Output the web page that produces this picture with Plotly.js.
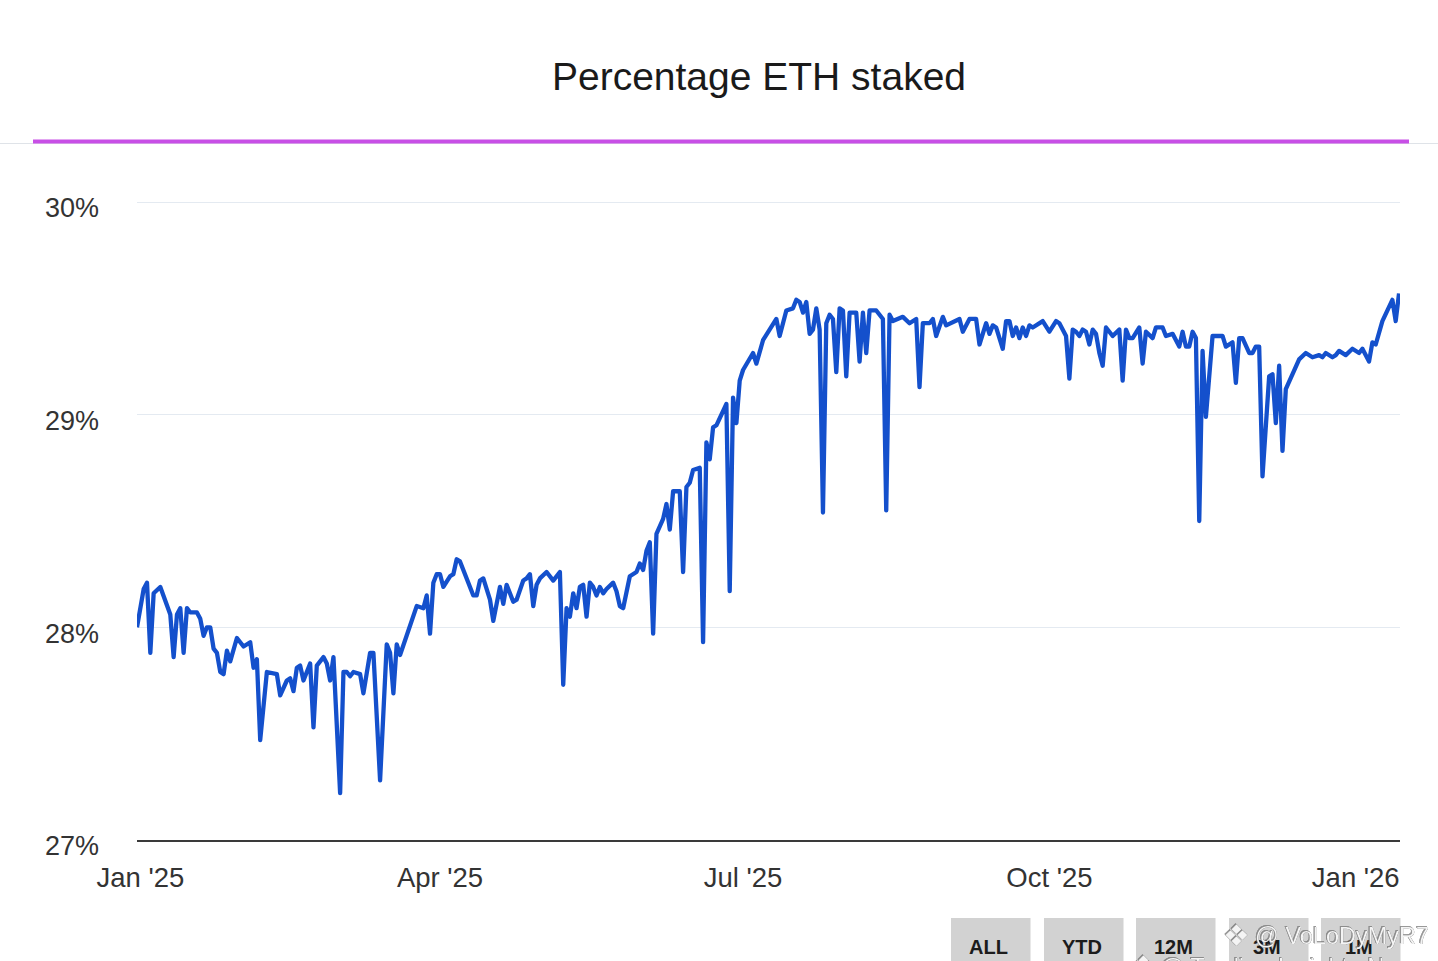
<!DOCTYPE html>
<html>
<head>
<meta charset="utf-8">
<script src="https://cdn.plot.ly/plotly-3.0.1.min.js"></script>
<style>
html,body{margin:0;padding:0;background:#fff;overflow:hidden}
#chart{width:1438px;height:961px}
g.annotation[data-index="5"] text,g.annotation[data-index="6"] text,g.annotation[data-index="7"] text,g.annotation[data-index="8"] text{filter:drop-shadow(0.5px 0.5px 0.4px rgba(70,70,70,1)) drop-shadow(-0.3px -0.3px 0.4px rgba(110,110,110,0.7))}
.js-line{stroke-linejoin:round}
</style>
</head>
<body>
<div id="chart"></div>
<script>
var titleText = "Percentage ETH staked";
var startDate = Date.UTC(2025, 0, 1);
var dayOffsets = [-1,0,1,2,3,4,6,9,10,11,12,13,14,15,17,18,19,20,21,22,23,24,25,26,27,29,31,33,34,35,36,38,40,41,42,44,45,46,47,48,49,50,51,52,53,55,56,57,58,60,61,62,63,64,66,67,69,70,72,74,75,76,77,78,83,85,86,87,88,89,90,91,93,94,95,96,100,101,102,103,105,106,108,109,110,112,113,115,116,117,118,119,120,122,124,126,127,128,129,130,131,132,133,134,135,136,137,138,139,140,142,143,144,145,147,149,150,151,152,153,154,155,157,158,159,160,162,163,164,165,166,168,169,170,171,172,173,176,177,178,179,180,181,184,185,187,189,191,192,194,196,197,198,199,200,201,202,203,204,205,206,207,208,209,210,211,212,213,215,216,217,218,219,221,223,224,225,226,229,231,233,234,235,237,238,239,241,242,246,247,249,251,252,254,255,256,257,259,260,261,262,263,264,265,266,267,268,271,273,275,276,278,279,280,281,282,283,284,285,286,287,288,289,290,292,294,295,296,297,298,300,301,302,304,305,307,308,310,312,313,314,315,316,317,318,319,320,322,323,325,326,328,329,330,331,333,334,335,336,337,339,340,341,342,343,344,348,350,352,354,355,356,358,359,360,362,364,366,367,369,370,371,373,376,377,378];
var stakedPct = [28.00,28.09,28.18,28.21,27.88,28.16,28.19,28.06,27.86,28.06,28.09,27.88,28.09,28.07,28.07,28.04,27.96,28.00,28.00,27.90,27.88,27.79,27.78,27.89,27.84,27.95,27.91,27.93,27.81,27.85,27.47,27.79,27.78,27.78,27.68,27.75,27.76,27.70,27.81,27.82,27.75,27.79,27.83,27.53,27.82,27.86,27.83,27.75,27.86,27.22,27.79,27.79,27.77,27.79,27.78,27.69,27.88,27.88,27.28,27.92,27.88,27.69,27.92,27.87,28.10,28.09,28.15,27.97,28.21,28.25,28.25,28.19,28.24,28.25,28.32,28.31,28.15,28.15,28.22,28.23,28.13,28.03,28.19,28.11,28.20,28.12,28.13,28.22,28.23,28.25,28.10,28.20,28.23,28.26,28.22,28.26,27.73,28.09,28.05,28.16,28.09,28.19,28.20,28.05,28.21,28.19,28.15,28.19,28.16,28.18,28.21,28.17,28.10,28.09,28.24,28.26,28.30,28.27,28.36,28.40,27.97,28.44,28.51,28.58,28.46,28.64,28.64,28.26,28.66,28.68,28.74,28.75,27.93,28.87,28.79,28.94,28.95,29.05,28.17,29.08,28.96,29.16,29.21,29.29,29.24,29.35,29.40,29.45,29.37,29.49,29.50,29.54,29.53,29.48,29.53,29.38,29.40,29.50,29.40,28.54,29.43,29.47,29.45,29.20,29.50,29.49,29.18,29.48,29.48,29.25,29.48,29.29,29.49,29.49,29.45,28.55,29.47,29.44,29.46,29.43,29.45,29.13,29.43,29.43,29.45,29.37,29.46,29.42,29.45,29.39,29.45,29.45,29.33,29.43,29.38,29.42,29.41,29.31,29.44,29.44,29.37,29.41,29.36,29.41,29.37,29.42,29.41,29.44,29.39,29.44,29.43,29.37,29.17,29.40,29.39,29.37,29.40,29.39,29.33,29.40,29.38,29.29,29.23,29.41,29.37,29.40,29.16,29.40,29.36,29.36,29.41,29.24,29.39,29.36,29.41,29.41,29.37,29.38,29.32,29.39,29.32,29.32,29.39,29.36,28.50,29.30,28.99,29.37,29.37,29.37,29.32,29.34,29.15,29.36,29.36,29.29,29.29,29.32,29.32,28.71,29.18,29.19,28.96,29.23,28.83,29.12,29.26,29.29,29.27,29.28,29.27,29.29,29.27,29.28,29.30,29.28,29.31,29.29,29.31,29.25,29.34,29.33,29.44,29.54,29.44,29.57];
var yTickValues = [27,28,29,30];
var yTickLabels = ["27%","28%","29%","30%"];
var xTickDates = ["2025-01-01","2025-04-01","2025-07-01","2025-10-01","2026-01-01"];
var xTickLabels = ["Jan '25","Apr '25","Jul '25","Oct '25","Jan '26"];
var rangeButtons = ["ALL","YTD","12M","3M","1M"];
var watermarkName = "@ VoLoDyMyR7";
var watermarkSource = "@ Trading Insights No";

function toDate(d){ return new Date(startDate + d*86400000).toISOString().slice(0,10); }

var W=1438,H=961,L=137,R=1400,T=160,B=840;
var yMax=30+(202-T)/212.67;
function px(x){ return (x-L)/(R-L); }
function py(y){ return (B-y)/(B-T); }
var font='"Liberation Sans", Arial, sans-serif';

var shapes=[
 {type:'line',xref:'paper',yref:'paper',x0:px(0),x1:px(W),y0:py(143.5),y1:py(143.5),line:{color:'#dfe3e8',width:1}},
 {type:'line',xref:'paper',yref:'paper',x0:px(33),x1:px(1409),y0:py(141.5),y1:py(141.5),line:{color:'#c84fe6',width:4}}
];
var annotations=[];
var btnX=[951,1044,1136,1229,1321];
rangeButtons.forEach(function(t,i){
  shapes.push({type:'rect',xref:'paper',yref:'paper',x0:px(btnX[i]),x1:px(btnX[i]+79.5),y0:py(918),y1:py(965),fillcolor:'#d2d2d2',line:{width:0}});
  annotations.push({xref:'paper',yref:'paper',x:px(btnX[i]+37.5),y:py(947),text:'<b>'+t+'</b>',showarrow:false,xanchor:'center',yanchor:'middle',font:{family:font,size:20,color:'#1c1c1c'}});
});
var wm={family:font,size:24,color:'#f4f4f4'};
annotations.push({xref:'paper',yref:'paper',x:px(1221),y:py(935),text:'❖',showarrow:false,xanchor:'left',yanchor:'middle',font:{family:'DejaVu Sans',size:30,color:'#f4f4f4'}});
annotations.push({xref:'paper',yref:'paper',x:px(1253),y:py(936),text:watermarkName,showarrow:false,xanchor:'left',yanchor:'middle',font:{family:font,size:23.5,color:'#f4f4f4'}});
annotations.push({xref:'paper',yref:'paper',x:px(1128),y:py(966),text:'❖',showarrow:false,xanchor:'left',yanchor:'middle',font:{family:'DejaVu Sans',size:30,color:'#f4f4f4'}});
annotations.push({xref:'paper',yref:'paper',x:px(1158),y:py(966),text:watermarkSource,showarrow:false,xanchor:'left',yanchor:'middle',font:wm});

Plotly.newPlot('chart',[{
  type:'scatter',mode:'lines',
  x:dayOffsets.map(toDate),y:stakedPct,
  line:{color:'#1450cc',width:4.3,shape:'linear'},
  hoverinfo:'x+y'
}],{
  width:W,height:H,
  margin:{l:L,r:W-R,t:T,b:H-B,pad:0},
  paper_bgcolor:'#fff',plot_bgcolor:'#fff',
  showlegend:false,
  font:{family:font,color:'#333'},
  title:{text:titleText,x:759/W,xanchor:'center',y:1-76/H,yanchor:'middle',font:{family:font,size:39,color:'#1a1a1a'}},
  xaxis:{type:'date',range:['2024-12-31 00:00','2026-01-14 07:00'],tickmode:'array',tickvals:xTickDates,ticktext:xTickLabels,
    showgrid:false,zeroline:false,showline:true,linecolor:'#3a3a3a',linewidth:2,ticks:'',ticklabelstandoff:12,
    tickfont:{family:font,size:27.5,color:'#333'}},
  yaxis:{range:[27,yMax],tickmode:'array',tickvals:yTickValues,ticktext:yTickLabels,
    showgrid:true,gridcolor:'#e4eaf1',gridwidth:1,zeroline:false,showline:false,ticks:'',ticklabelstandoff:37,ticklabelshift:6,
    tickfont:{family:font,size:27,color:'#333'}},
  shapes:shapes,annotations:annotations
},{displayModeBar:false,staticPlot:true});
</script>
</body>
</html>
